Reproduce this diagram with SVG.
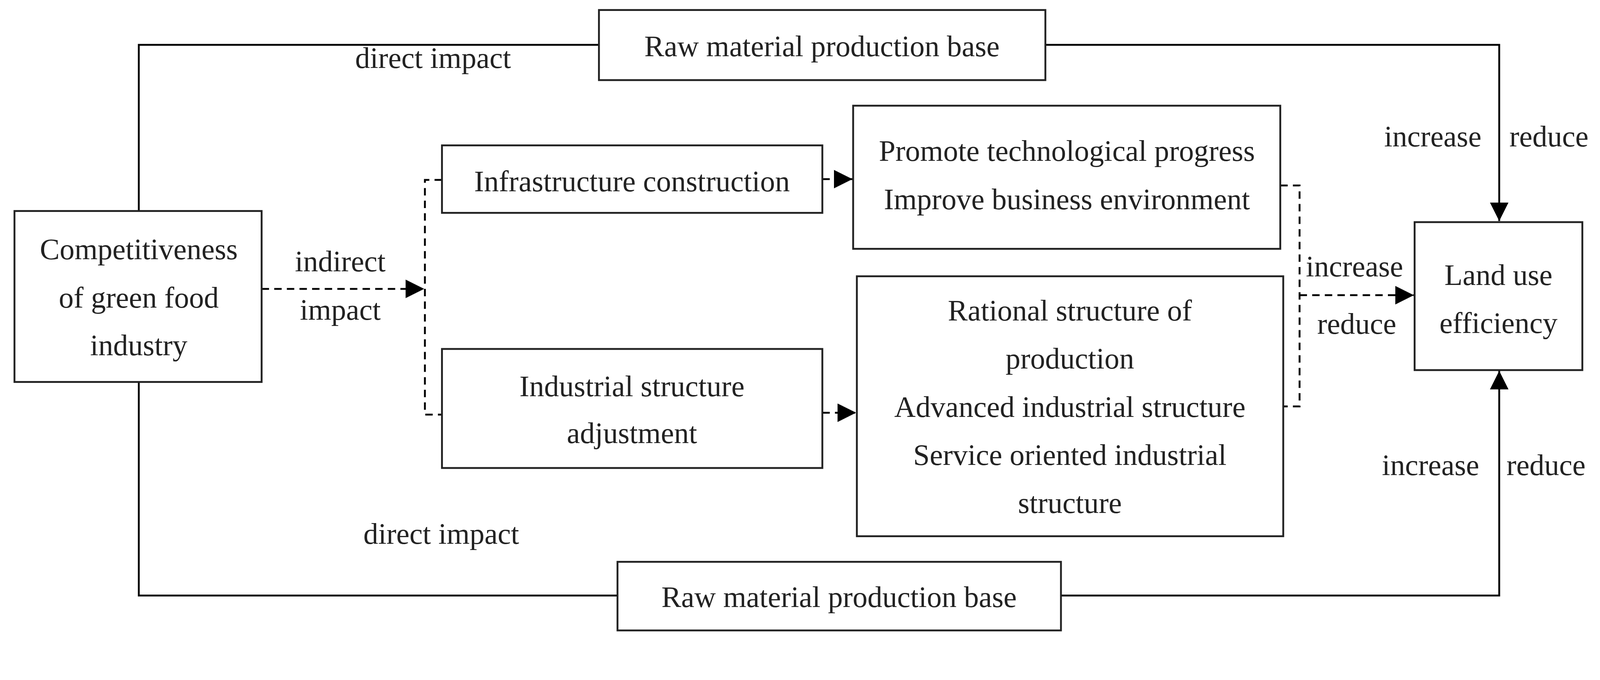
<svg xmlns="http://www.w3.org/2000/svg" width="4307" height="1742" viewBox="0 0 4307 1742">
<defs>
<style>
rect{fill:#fff;stroke:#222;stroke-width:5}
text{font-family:"Liberation Serif","Times New Roman",serif;font-size:80px;fill:#222;text-anchor:middle}
.s{fill:none;stroke:#000;stroke-width:5}
.d{fill:none;stroke:#000;stroke-width:5;stroke-dasharray:20,14}
</style>
<marker id="a" viewBox="0 0 10 10" refX="10" refY="5" markerWidth="10" markerHeight="10" orient="auto"><path d="M0,0 L10,5 L0,10 z" fill="#000"/></marker>
</defs>
<g transform="scale(0.95)">
<g id="connectors">
<polyline class="s" points="374,569 374,121 1614,121"/>
<polyline class="s" points="2817,121 4040,121 4040,596" marker-end="url(#a)"/>
<polyline class="s" points="374,1030 374,1606 1664,1606"/>
<polyline class="s" points="2859,1606 4040,1606 4040,1000" marker-end="url(#a)"/>
<line class="d" x1="705" y1="779" x2="1143" y2="779" marker-end="url(#a)"/>
<polyline class="d" points="1191,485 1145,485 1145,1118 1191,1118"/>
<line class="d" x1="2216" y1="483" x2="2297" y2="483" marker-end="url(#a)"/>
<line class="d" x1="2216" y1="1113" x2="2307" y2="1113" marker-end="url(#a)"/>
<polyline class="d" points="3450,500 3502,500 3502,1096 3458,1096"/>
<line class="d" x1="3502" y1="796" x2="3810" y2="796" marker-end="url(#a)"/>
<text x="1167" y="183">direct impact</text>
<text x="1189" y="1466">direct impact</text>
<text x="917" y="732">indirect</text>
<text x="917" y="862">impact</text>
<text x="3650" y="745">increase</text>
<text x="3656" y="900">reduce</text>
<text x="3861" y="395">increase</text>
<text x="4174" y="395">reduce</text>
<text x="3855" y="1281">increase</text>
<text x="4166" y="1281">reduce</text>
</g>
<g id="comp"><rect x="39" y="569" width="666" height="461"/>
<text x="374" y="699">Competitiveness</text><text x="374" y="829">of green food</text><text x="374" y="958">industry</text></g>
<g id="rawTop"><rect x="1614" y="27" width="1203" height="189"/><text x="2215" y="152">Raw material production base</text></g>
<g id="rawBottom"><rect x="1664" y="1515" width="1195" height="185"/><text x="2261" y="1637">Raw material production base</text></g>
<g id="infra"><rect x="1191" y="392" width="1025" height="182"/><text x="1703" y="516">Infrastructure construction</text></g>
<g id="indus"><rect x="1191" y="941" width="1025" height="321"/><text x="1703" y="1068">Industrial structure</text><text x="1703" y="1195">adjustment</text></g>
<g id="promote"><rect x="2299" y="285" width="1151" height="386"/><text x="2875" y="434">Promote technological progress</text><text x="2875" y="564">Improve business environment</text></g>
<g id="rational"><rect x="2309" y="745" width="1149" height="701"/>
<text x="2883" y="864">Rational structure of</text><text x="2883" y="994">production</text><text x="2883" y="1124">Advanced industrial structure</text><text x="2883" y="1254">Service oriented industrial</text><text x="2883" y="1383">structure</text></g>
<g id="land"><rect x="3812" y="599" width="452" height="399"/><text x="4038" y="768">Land use</text><text x="4038" y="898">efficiency</text></g>
</g>
</svg>
